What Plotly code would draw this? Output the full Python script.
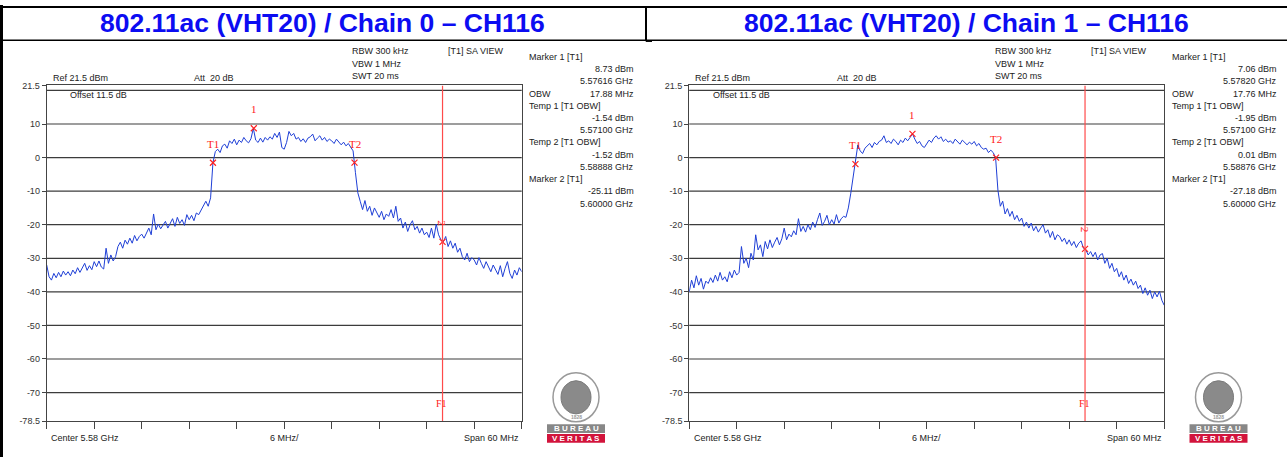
import numpy as np
import plotly.graph_objects as go

W, H = 1287, 462
SANS = "Liberation Sans, Arial, sans-serif"
SERIF = "Liberation Serif, Times New Roman, serif"

TITLES = ["802.11ac (VHT20) / Chain 0 \u2013 CH116", "802.11ac (VHT20) / Chain 1 \u2013 CH116"]
F_START, F_STOP = 5.55, 5.61
F1_LINE = 5.60
Y_TICKS = [21.5, 10, 0, -10, -20, -30, -40, -50, -60, -70, -78.5]
Y_TICK_TEXT = ["21.5", "10", "0", "-10", "-20", "-30", "-40", "-50", "-60", "-70", "-78.5"]
GRID_LEVELS = [20, 10, 0, -10, -20, -30, -40, -50, -60, -70]
X_TICKS = [5.550, 5.556, 5.562, 5.568, 5.574, 5.580, 5.586, 5.592, 5.598, 5.604, 5.610]

# Measured trace levels (dBm), one value every 0.3 MHz from 5.55 to 5.61 GHz
TRACE_0 = [
    -32.0, -35.5, -36.5, -34.5, -35.8, -34.2, -35.5, -33.8, -35.0, -34.0,
    -35.2, -33.5, -34.6, -32.8, -34.2, -33.0, -31.5, -33.6, -32.2, -33.4,
    -31.0, -32.5, -30.8, -32.6, -33.2, -27.0, -31.5, -29.0, -30.8, -29.5,
    -26.5, -25.2, -27.0, -24.6, -25.8, -24.0, -25.5, -23.2, -24.8, -23.5,
    -22.8, -24.0, -22.2, -21.0, -23.0, -16.8, -21.5, -19.8, -21.2, -20.0,
    -19.0, -21.0, -19.5, -18.2, -20.5, -17.8, -19.6, -18.5, -20.2, -17.0,
    -18.5, -17.2, -18.8, -16.5, -17.0, -15.5, -14.2, -13.0, -14.5, -12.0,
    -1.5, 1.8, 2.5, 1.5, 3.5, 4.0, 2.8, 5.0, 4.2, 5.5,
    3.8, 5.2, 4.5, 6.0, 5.0, 4.4, 5.6, 8.7, 5.2, 4.5,
    5.8, 4.6, 6.0, 5.2, 6.2, 5.5, 7.2, 6.0, 7.6, 3.0,
    2.5, 4.5, 7.8, 6.5, 7.2, 5.5, 6.0, 4.8, 5.6, 4.5,
    5.8, 6.2, 7.0, 5.0, 5.8, 6.5, 5.2, 6.0, 4.8, 5.5,
    5.0, 4.2, 5.5, 4.5, 3.8, 4.6, 3.5, 4.2, 3.0, 2.0,
    -4.5, -10.5, -13.0, -15.5, -12.8, -16.0, -14.5, -17.2, -15.0, -16.5,
    -17.8, -16.0, -18.5, -16.8, -17.5, -15.5, -18.0, -14.5, -19.0, -18.0,
    -21.0, -19.2, -22.0, -20.0, -18.8, -21.5, -20.5, -22.5, -21.0, -23.0,
    -22.2, -23.8, -21.0, -24.0, -19.8, -23.0, -24.5, -25.1, -23.5, -26.5,
    -24.8, -27.0, -25.5, -28.2, -27.0, -29.5, -30.5, -28.5, -31.0, -29.8,
    -30.5, -32.0, -29.8, -31.5, -33.0, -31.0, -32.5, -34.0, -32.0, -33.5,
    -34.8, -32.2, -35.5, -33.0, -31.0, -34.5, -36.0, -33.5, -35.0, -32.8, -34.0,
]
TRACE_1 = [
    -40.0, -36.5, -38.8, -35.2, -38.0, -36.0, -39.2, -36.8, -37.5, -35.8,
    -37.2, -35.0, -36.8, -34.2, -36.5, -35.5, -37.0, -34.0, -35.8, -33.5,
    -35.0, -34.2, -26.5, -31.5, -30.0, -32.8, -28.5, -30.5, -23.0, -27.5,
    -26.0, -29.5, -25.0, -27.2, -24.5, -26.8, -25.2, -23.8, -26.0, -24.2,
    -21.0, -24.5, -22.8, -23.6, -21.8, -23.0, -18.2, -22.0, -20.5, -22.2,
    -20.0, -21.5, -19.2, -20.8, -18.5, -16.5, -20.2, -19.0, -17.2, -20.0,
    -18.5, -19.8, -17.0, -19.5, -18.2, -17.5, -17.8, -15.0, -10.8, -6.0,
    -1.95, 3.8, 2.0, 1.2, 2.8, 3.5, 4.2, 3.0, 4.5, 3.8,
    4.8, 5.2, 6.5, 4.5, 5.0, 4.2, 5.5, 4.8, 3.8, 5.2,
    4.5, 5.8, 5.0, 6.0, 7.06, 5.5, 4.2, 4.8, 3.5, 3.0,
    4.0, 5.2, 4.5, 5.8, 6.5, 5.5, 6.2, 4.8, 5.5, 4.6,
    5.0, 4.2, 5.5, 4.8, 4.0, 5.2, 4.5, 3.8, 4.6, 4.0,
    4.8, 3.5, 4.2, 3.0, 2.5, 2.8, 1.5, 2.2, 1.5, 0.01,
    -9.8, -14.5, -13.0, -16.8, -15.2, -17.5, -16.0, -18.5, -17.2, -19.0,
    -18.0, -20.5, -19.2, -21.0, -19.5, -21.8, -20.5, -22.2, -21.0, -20.0,
    -22.5, -21.5, -23.8, -22.0, -24.5, -23.0, -23.5, -25.0, -24.0, -25.8,
    -24.5, -26.2, -25.0, -26.8, -25.5, -24.8, -27.0, -27.5, -29.0, -28.0,
    -29.5, -28.2, -30.5, -29.0, -28.6, -31.5, -30.0, -33.0, -31.5, -34.0,
    -33.0, -35.5, -34.0, -36.5, -35.0, -37.5, -36.2, -38.0, -36.8, -39.0,
    -38.0, -40.5, -38.8, -41.0, -39.5, -42.0, -40.0, -41.5, -39.8, -42.5, -44.0,
]
TRACES = [TRACE_0, TRACE_1]

MARKER_NAMES = ["T1", "1", "T2", "2"]
MARKER_FREQ_0 = [5.57100, 5.57616, 5.58888, 5.60000]
MARKER_LEVEL_0 = [-1.54, 8.73, -1.52, -25.11]
MARKER_FREQ_1 = [5.57100, 5.57820, 5.58876, 5.60000]
MARKER_LEVEL_1 = [-1.95, 7.06, 0.01, -27.18]
MARKER_FREQS = [MARKER_FREQ_0, MARKER_FREQ_1]
MARKER_LEVELS = [MARKER_LEVEL_0, MARKER_LEVEL_1]

SETTINGS = ["RBW 300 kHz", "VBW 1 MHz", "SWT 20 ms"]
VIEW_LABEL = "[T1] SA VIEW"
REF_LABEL = "Ref 21.5 dBm"
ATT_LABEL = "Att\u00a0 20 dB"
OFFSET_LABEL = "Offset 11.5 dB"
BOTTOM_LABELS = ["Center 5.58 GHz", "6 MHz/", "Span 60 MHz"]

SIDE_ROWS_0 = [("Marker 1 [T1]", ""), ("", "8.73 dBm"), ("", "5.57616 GHz"), ("OBW", "17.88 MHz"),
               ("Temp 1 [T1 OBW]", ""), ("", "-1.54 dBm"), ("", "5.57100 GHz"),
               ("Temp 2 [T1 OBW]", ""), ("", "-1.52 dBm"), ("", "5.58888 GHz"),
               ("Marker 2 [T1]", ""), ("", "-25.11 dBm"), ("", "5.60000 GHz")]
SIDE_ROWS_1 = [("Marker 1 [T1]", ""), ("", "7.06 dBm"), ("", "5.57820 GHz"), ("OBW", "17.76 MHz"),
               ("Temp 1 [T1 OBW]", ""), ("", "-1.95 dBm"), ("", "5.57100 GHz"),
               ("Temp 2 [T1 OBW]", ""), ("", "0.01 dBm"), ("", "5.58876 GHz"),
               ("Marker 2 [T1]", ""), ("", "-27.18 dBm"), ("", "5.60000 GHz")]
SIDE_ROWS = [SIDE_ROWS_0, SIDE_ROWS_1]

# ---------------- layout geometry (pixels) ----------------
PANEL_DX = 642.5
PLOT_X0, PLOT_X1 = 46.7, 521.7
PLOT_Y0, PLOT_Y1 = 82.2, 425.3


def px(x):
    return x / W


def py(y):
    return 1 - y / H


fig = go.Figure()
annotations = []
shapes = []


def text(t, x, y, anchor="left", size=9, color="#222222", family=SANS, **kw):
    annotations.append(dict(text=t, x=px(x), y=py(y), xref="paper", yref="paper",
                            xanchor=anchor, yanchor="middle", showarrow=False,
                            font=dict(family=family, size=size, color=color), **kw))


def pline(x0, y0, x1, y1, color="black", width=1):
    shapes.append(dict(type="line", xref="paper", yref="paper", x0=px(x0), y0=py(y0),
                       x1=px(x1), y1=py(y1), line=dict(color=color, width=width)))


# table borders
pline(0, 2, W, 2, width=2)
pline(0, 36, W, 36, width=1.5)
pline(1.5, 0, 1.5, H, width=3)
pline(646, 2, 646, 37, width=2)
pline(646, 37, 652, 37, width=1.5)

for i in range(2):
    dx = i * PANEL_DX
    xa = "x" if i == 0 else "x2"
    ya = "y" if i == 0 else "y2"
    xkey = "xaxis" if i == 0 else "xaxis2"
    ykey = "yaxis" if i == 0 else "yaxis2"

    levels = TRACES[i]
    freqs = np.linspace(F_START, F_STOP, len(levels))
    fig.add_trace(go.Scatter(x=freqs, y=levels, mode="lines", xaxis=xa, yaxis=ya,
                             line=dict(color="#1f3fd6", width=1), showlegend=False,
                             hoverinfo="skip"))
    fig.add_trace(go.Scatter(x=MARKER_FREQS[i], y=MARKER_LEVELS[i], mode="markers",
                             xaxis=xa, yaxis=ya, showlegend=False,
                             marker=dict(symbol="x-thin", size=6,
                                         line=dict(width=1.2, color="#ff2020"))))
    for name, f, lv in zip(MARKER_NAMES, MARKER_FREQS[i], MARKER_LEVELS[i]):
        annotations.append(dict(text=name, x=f, y=lv, xref=xa, yref=ya, showarrow=False,
                                yshift=19, xanchor="center", yanchor="middle",
                                textangle=90 if name == "2" else 0,
                                font=dict(family=SERIF, size=11, color="#ff2020")))

    fig.layout[xkey] = dict(domain=[px(PLOT_X0 + dx), px(PLOT_X1 + dx)], range=[F_START, F_STOP],
                            anchor=ya, showgrid=False, zeroline=False, showline=True, mirror=True,
                            linecolor="#444444", linewidth=1, tickvals=X_TICKS, ticks="outside",
                            ticklen=7, tickcolor="#444444", showticklabels=False, fixedrange=True)
    fig.layout[ykey] = dict(domain=[py(PLOT_Y1), py(PLOT_Y0)], range=[-78.5, 21.5], anchor=xa,
                            showgrid=False, zeroline=False, showline=True, mirror=True,
                            linecolor="#444444", linewidth=1, tickvals=Y_TICKS,
                            ticktext=Y_TICK_TEXT, ticks="outside", ticklen=4,
                            tickcolor="#444444",
                            tickfont=dict(family=SANS, size=9, color="#333333"), fixedrange=True)

    for g in GRID_LEVELS:
        shapes.append(dict(type="line", xref=f"{xa} domain", yref=ya, x0=0, x1=1, y0=g, y1=g,
                           line=dict(color="#3c3c3c", width=1.2), layer="below"))
    shapes.append(dict(type="line", xref=xa, yref=ya, x0=F1_LINE, x1=F1_LINE, y0=-78.5, y1=21.5,
                       line=dict(color="#ff4a4a", width=1.2)))
    annotations.append(dict(text="F1", x=F1_LINE, y=-73.2, xref=xa, yref=ya, showarrow=False,
                            xshift=-1, font=dict(family=SERIF, size=10, color="#ff2020")))

    # title
    text(f"<b>{TITLES[i]}</b>", 323 + i * 644, 18, anchor="center", size=26.5, color="#0c0cf2")

    # instrument settings
    for k, s in enumerate(SETTINGS):
        text(s, 350 + dx, 47 + 13 * k)
    text(VIEW_LABEL, 446 + dx, 47)
    text(REF_LABEL, 50.5 + dx, 75)
    text(ATT_LABEL, 192 + dx, 75)
    text(OFFSET_LABEL, 68 + dx, 92)

    # side panel
    for k, (lt, rt) in enumerate(SIDE_ROWS[i]):
        yy = 53 + 12.5 * k
        if lt:
            text(lt, 527 + dx, yy)
        if rt:
            text(rt, 636 + dx, yy, anchor="right")

    # bottom labels
    text(BOTTOM_LABELS[0], 49 + dx, 443)
    text(BOTTOM_LABELS[1], (PLOT_X0 + PLOT_X1) / 2 + dx, 443, anchor="center")
    text(BOTTOM_LABELS[2], 521 + dx, 443, anchor="right")

    # logo
    cx = 576 + dx
    shapes.append(dict(type="circle", xref="paper", yref="paper", x0=px(cx - 23), x1=px(cx + 23),
                       y0=py(426), y1=py(376), line=dict(color="#999999", width=1.5),
                       fillcolor="white"))
    shapes.append(dict(type="circle", xref="paper", yref="paper", x0=px(cx - 15), x1=px(cx + 15),
                       y0=py(418), y1=py(384), line=dict(color="#7a7a7a", width=1),
                       fillcolor="#8a8a8a"))
    text("<b>1828</b>", cx, 421.5, anchor="center", size=5, color="#999999")
    shapes.append(dict(type="rect", xref="paper", yref="paper", x0=px(cx - 29), x1=px(cx + 29),
                       y0=py(437.5), y1=py(428.5), line=dict(width=0), fillcolor="#878787"))
    shapes.append(dict(type="rect", xref="paper", yref="paper", x0=px(cx - 29), x1=px(cx + 29),
                       y0=py(447.5), y1=py(438.5), line=dict(width=0), fillcolor="#d2143c"))
    text("<b>B U R E A U</b>", cx, 433.2, anchor="center", size=8, color="white")
    text("<b>V E R I T A S</b>", cx, 443.2, anchor="center", size=8, color="white")

fig.update_layout(width=W, height=H, autosize=False, margin=dict(l=0, r=0, t=0, b=0),
                  paper_bgcolor="white", plot_bgcolor="white", showlegend=False,
                  annotations=annotations, shapes=shapes)
fig.write_html("out.html", config={"displayModeBar": False})

# remove the browser's default page margin so the figure fills the window exactly
with open("out.html", encoding="utf-8") as fh:
    page = fh.read()
page = page.replace("<head>", "<head><style>html,body{margin:0;padding:0;overflow:hidden;}</style>", 1)
with open("out.html", "w", encoding="utf-8") as fh:
    fh.write(page)
